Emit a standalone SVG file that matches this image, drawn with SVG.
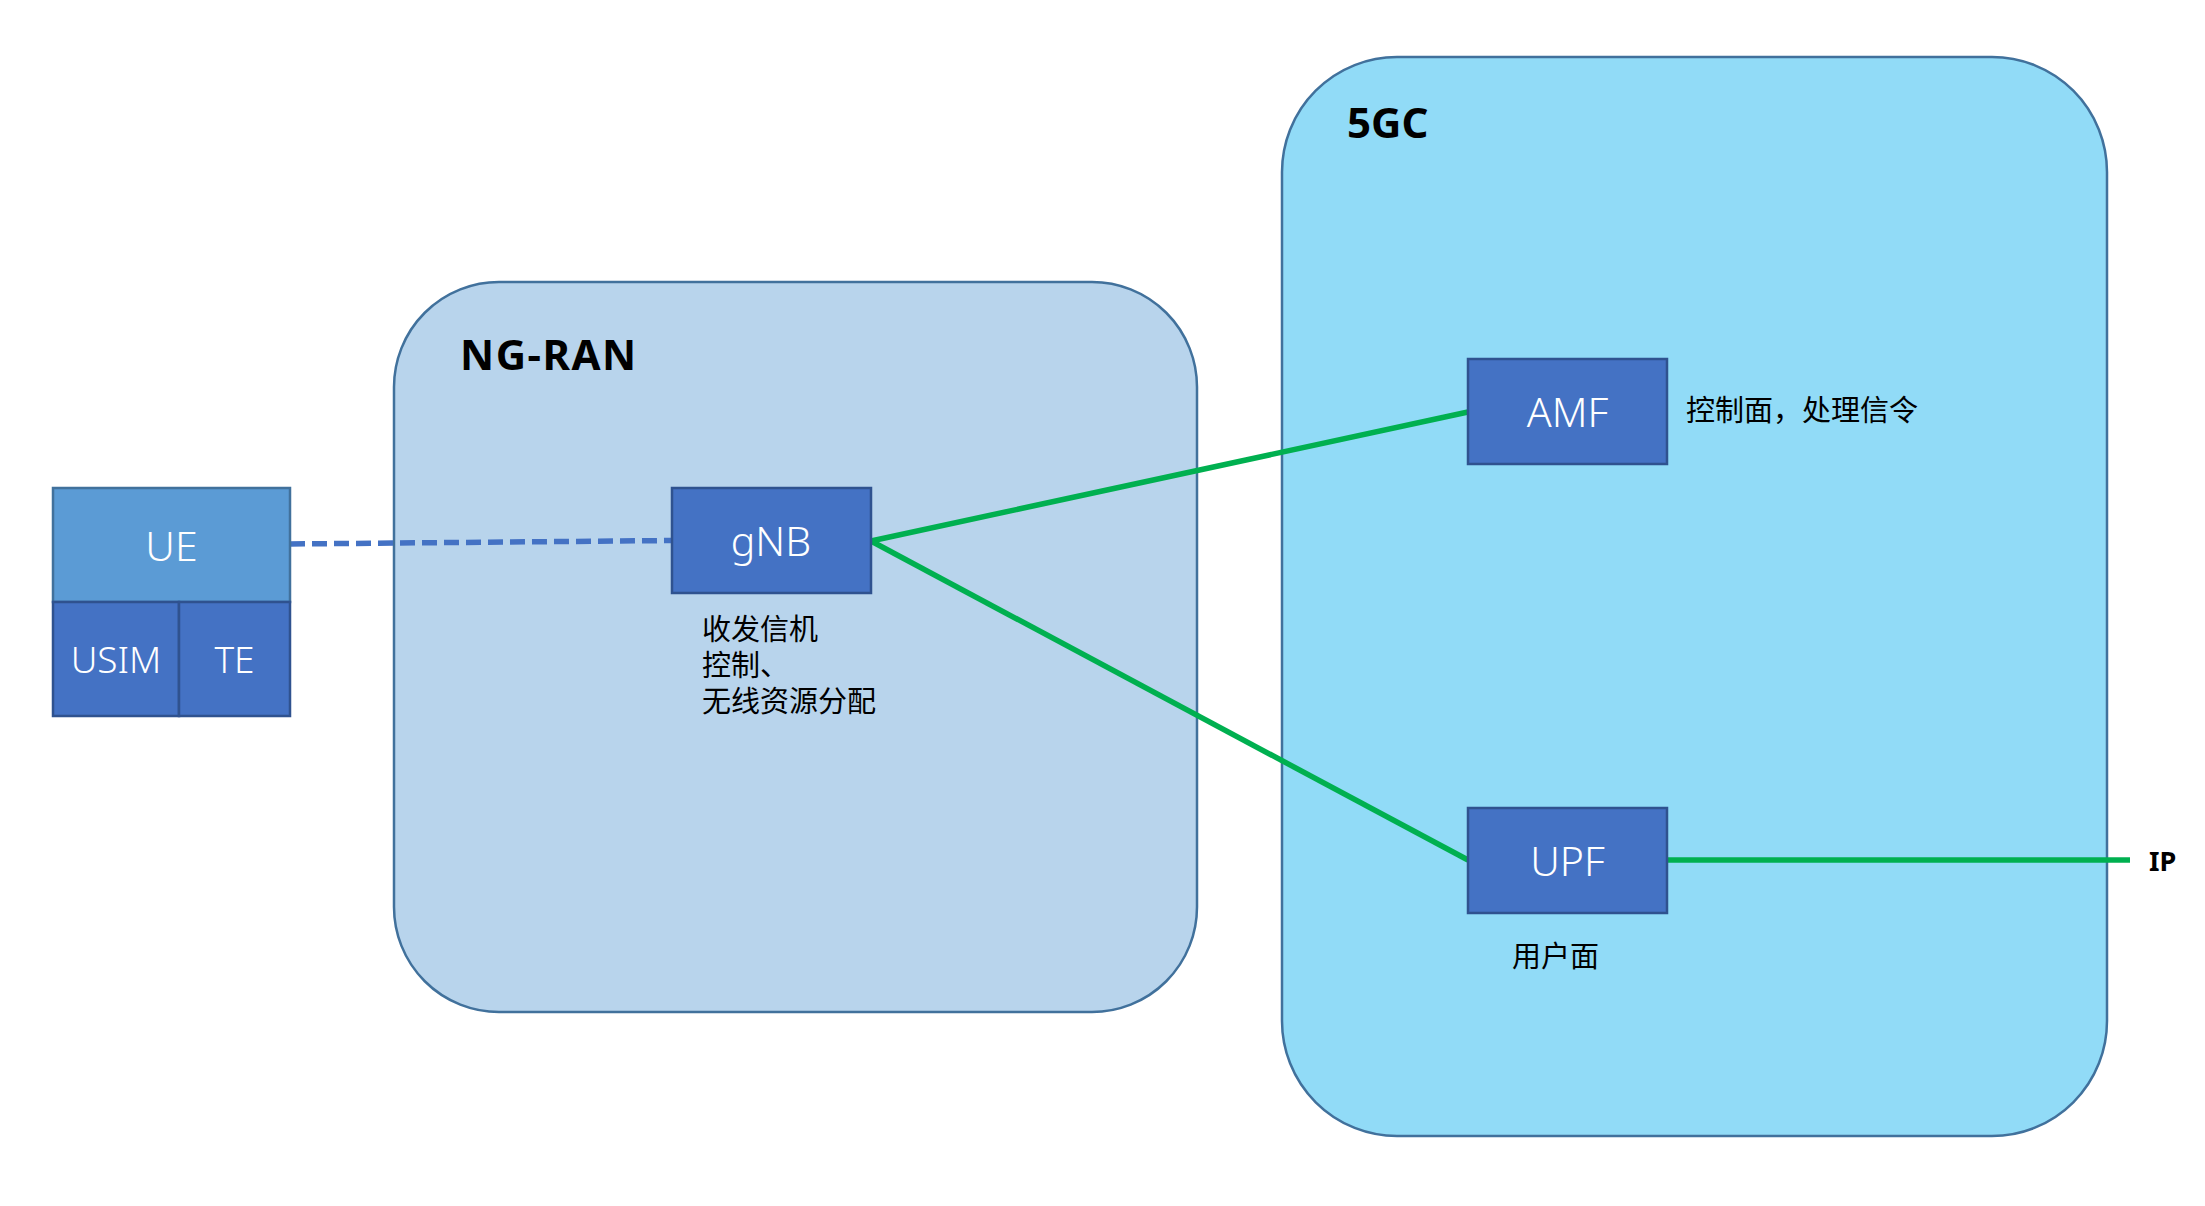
<svg xmlns="http://www.w3.org/2000/svg" width="2205" height="1206" viewBox="0 0 2205 1206">
<style>
.region{stroke:#41719C;stroke-width:2.5}
.box{fill:#4472C4;stroke:#2F528F;stroke-width:2.5}
.wt{fill:#FFFFFF;font-family:"Noto Sans","Noto Sans CJK SC",sans-serif;font-weight:300;font-size:41px;text-anchor:middle}
.wts{fill:#FFFFFF;font-family:"Noto Sans","Noto Sans CJK SC",sans-serif;font-weight:300;font-size:37px;text-anchor:middle}
.title{fill:#000000;font-family:"Noto Sans","Noto Sans CJK SC",sans-serif;font-weight:bold;font-size:42px}
.note{fill:#000000;font-family:"Noto Sans CJK SC","Noto Sans",sans-serif;font-size:29px}
.green{stroke:#00B050;stroke-width:5.5;fill:none}
</style>
<rect width="2205" height="1206" fill="#FFFFFF"/>
<g id="ng-ran">
<rect class="region" x="394" y="282" width="803" height="730" rx="105" ry="105" fill="#B8D4EC"/>
<text class="title" x="460" y="370" letter-spacing="1.5">NG-RAN</text>
</g>
<g id="5gc">
<rect class="region" x="1282" y="57" width="825" height="1079" rx="115" ry="115" fill="#91DBF7"/>
<text class="title" x="1347" y="138">5GC</text>
</g>
<g id="connectors">
<path d="M290 544 L672 540.5" stroke="#4472C4" stroke-width="5.5" stroke-dasharray="15 7" fill="none"/>
<path class="green" d="M871 541 L1468 412"/>
<path class="green" d="M871 541 L1468 860"/>
<path class="green" d="M1667 860 L2130 860"/>
</g>
<g id="ue">
<rect x="53" y="488" width="237" height="114" fill="#5B9BD5" stroke="#41719C" stroke-width="2.5"/>
<text class="wt" x="171.5" y="561">UE</text>
</g>
<g id="usim">
<rect class="box" x="53" y="602" width="126" height="114"/>
<text class="wts" x="116" y="673">USIM</text>
</g>
<g id="te">
<rect class="box" x="179" y="602" width="111" height="114"/>
<text class="wts" x="234.5" y="673">TE</text>
</g>
<g id="gnb">
<rect class="box" x="672" y="488" width="199" height="105"/>
<text class="wt" x="771" y="556">gNB</text>
<text class="note" x="702" y="640">收发信机<tspan x="702" dy="36">控制、</tspan><tspan x="702" dy="36">无线资源分配</tspan></text>
</g>
<g id="amf">
<rect class="box" x="1468" y="359" width="199" height="105"/>
<text class="wt" x="1567.5" y="427">AMF</text>
<text class="note" x="1686" y="421">控制面，处理信令</text>
</g>
<g id="upf">
<rect class="box" x="1468" y="808" width="199" height="105"/>
<text class="wt" x="1567.5" y="876">UPF</text>
<text class="note" x="1512" y="967">用户面</text>
</g>
<g id="ip">
<text x="2149" y="871" font-family="Noto Sans, sans-serif" font-weight="bold" font-size="27" fill="#000000">IP</text>
</g>
</svg>
